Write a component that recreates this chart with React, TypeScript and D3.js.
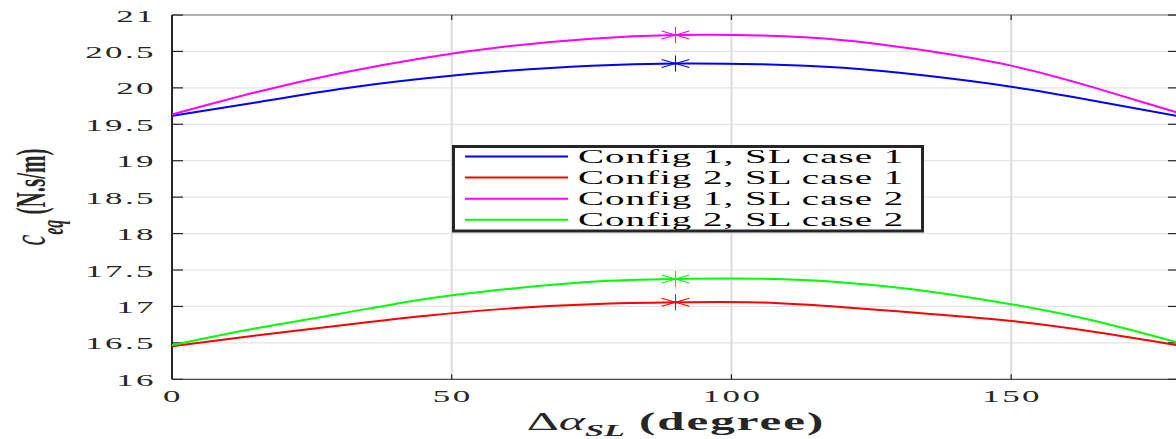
import React, { useEffect, useRef } from "react";
import * as d3 from "d3";

// sampled along delta alpha_SL (degree)
const angles = [0, 15, 30, 45, 60, 75, 90, 105, 120, 135, 150, 165, 180];
const config1Case1 = [19.615, 19.8, 19.985, 20.13, 20.235, 20.305, 20.335, 20.325, 20.275, 20.165, 20.015, 19.82, 19.61];
const config2Case1 = [16.453, 16.6, 16.74, 16.87, 16.97, 17.03, 17.057, 17.055, 16.99, 16.9, 16.8, 16.65, 16.465];
const config1Case2 = [19.635, 19.94, 20.2, 20.41, 20.57, 20.675, 20.725, 20.72, 20.655, 20.51, 20.305, 20.0, 19.655];
const config2Case2 = [16.467, 16.7, 16.9, 17.1, 17.24, 17.34, 17.377, 17.38, 17.33, 17.21, 17.03, 16.8, 16.5];

const seriesNames = ["Config 1, SL case 1", "Config 2, SL case 1", "Config 1, SL case 2", "Config 2, SL case 2"];
const seriesColors = ["#0000ff", "#ff0000", "#ff00ff", "#00ff00"];
const seriesValues = [config1Case1, config2Case1, config1Case2, config2Case2];
const markerAngle = 90;

const yTicks = [16, 16.5, 17, 17.5, 18, 18.5, 19, 19.5, 20, 20.5, 21];
const xTicks = [0, 50, 100, 150];

const W = 1176;
const H = 439;
const SX = 2; // the figure is stretched horizontally

export default function App() {
  const ref = useRef<SVGSVGElement>(null);

  useEffect(() => {
    const svg = d3.select(ref.current);
    svg.selectAll("*").remove();

    const x = d3.scaleLinear().domain([0, 180]).range([172, 1179]);
    const y = d3.scaleLinear().domain([16, 21]).range([379.3, 15]);
    const font = "'Liberation Serif', 'Times New Roman', serif";

    // grid
    svg.append("g")
      .selectAll("line")
      .data(yTicks.slice(1, -1))
      .enter()
      .append("line")
      .attr("x1", x(0)).attr("x2", x(180))
      .attr("y1", d => y(d)).attr("y2", d => y(d))
      .attr("stroke", "#e4e4e4").attr("stroke-width", 1.2);
    svg.append("g")
      .selectAll("line")
      .data(xTicks.slice(1))
      .enter()
      .append("line")
      .attr("x1", d => x(d)).attr("x2", d => x(d))
      .attr("y1", y(21)).attr("y2", y(16))
      .attr("stroke", "#dcdcdc").attr("stroke-width", 2);

    // box
    svg.append("line").attr("x1", x(0)).attr("x2", x(180)).attr("y1", y(21)).attr("y2", y(21))
      .attr("stroke", "#999").attr("stroke-width", 1.5);
    svg.append("line").attr("x1", x(0)).attr("x2", x(180)).attr("y1", y(16)).attr("y2", y(16))
      .attr("stroke", "#4a4a4a").attr("stroke-width", 1.3);
    svg.append("line").attr("x1", x(0)).attr("x2", x(0)).attr("y1", y(21)).attr("y2", y(16))
      .attr("stroke", "#262626").attr("stroke-width", 2);

    // ticks, pointing inward
    const yt = svg.append("g").attr("stroke", "#262626").attr("stroke-width", 1.2);
    yTicks.forEach(v => {
      yt.append("line").attr("x1", x(0)).attr("x2", x(0) + 11).attr("y1", y(v)).attr("y2", y(v));
      yt.append("line").attr("x1", x(180) - 11).attr("x2", x(180)).attr("y1", y(v)).attr("y2", y(v));
    });
    xTicks.slice(1).forEach(v => {
      yt.append("line").attr("x1", x(v)).attr("x2", x(v)).attr("y1", y(16)).attr("y2", y(16) - 5);
      yt.append("line").attr("x1", x(v)).attr("x2", x(v)).attr("y1", y(21)).attr("y2", y(21) + 5);
    });

    // tick labels
    svg.append("g")
      .selectAll("text")
      .data(yTicks)
      .enter()
      .append("text")
      .attr("transform", d => `translate(156,${y(d) + 6.5}) scale(${SX},1)`)
      .attr("text-anchor", "end")
      .attr("font-family", font).attr("font-size", 17.5)
      .attr("letter-spacing", 1.2)
      .attr("fill", "#262626")
      .text(d => String(d));
    svg.append("g")
      .selectAll("text")
      .data(xTicks)
      .enter()
      .append("text")
      .attr("transform", d => `translate(${x(d) + 1},401.5) scale(${SX},1)`)
      .attr("text-anchor", "middle")
      .attr("font-family", font).attr("font-size", 17.5)
      .attr("letter-spacing", 1.2)
      .attr("fill", "#262626")
      .text(d => String(d));

    // curves
    const line = d3.line<number>()
      .x((_, i) => x(angles[i]))
      .y(d => y(d))
      .curve(d3.curveNatural);
    const plot = svg.append("g");
    seriesValues.forEach((vals, i) => {
      plot.append("path")
        .datum(vals)
        .attr("d", line)
        .attr("fill", "none")
        .attr("stroke", seriesColors[i])
        .attr("stroke-width", 2);
    });

    // asterisk markers at 90 degrees
    const r = 8;
    const star = `M0,${-r}L0,${r}` +
      `M${-r * 0.866 * SX},${-r * 0.5}L${r * 0.866 * SX},${r * 0.5}` +
      `M${-r * 0.866 * SX},${r * 0.5}L${r * 0.866 * SX},${-r * 0.5}`;
    seriesValues.forEach((vals, i) => {
      const k = angles.indexOf(markerAngle);
      plot.append("path")
        .attr("d", star)
        .attr("transform", `translate(${x(markerAngle)},${y(vals[k])})`)
        .attr("fill", "none")
        .attr("stroke", seriesColors[i])
        .attr("stroke-width", 1.1);
    });

    // legend
    const lg = svg.append("g");
    lg.append("rect")
      .attr("x", 453.5).attr("y", 146.5).attr("width", 469).attr("height", 84.5)
      .attr("fill", "#fff").attr("stroke", "#262626").attr("stroke-width", 3);
    seriesNames.forEach((name, i) => {
      const cy = 156.5 + i * 21.1;
      lg.append("line")
        .attr("x1", 465).attr("x2", 568).attr("y1", cy).attr("y2", cy)
        .attr("stroke", seriesColors[i]).attr("stroke-width", 2);
      lg.append("text")
        .attr("transform", `translate(578,${cy + 6.5}) scale(${SX},1)`)
        .attr("font-family", font).attr("font-size", 19.5)
        .attr("letter-spacing", 0.5)
        .attr("fill", "#000")
        .text(name);
    });

    // x label
    const xl = svg.append("text")
      .attr("transform", `translate(676,430) scale(${SX},1)`)
      .attr("text-anchor", "middle")
      .attr("font-family", font).attr("font-size", 23)
      .attr("fill", "#262626");
    xl.append("tspan").attr("font-size", 25).text("\u0394");
    xl.append("tspan").attr("font-style", "italic").attr("font-size", 25).text("\u03b1");
    xl.append("tspan").attr("font-style", "italic").attr("font-weight", "bold")
      .attr("font-size", 17).attr("dy", 6).text("SL");
    xl.append("tspan").attr("font-weight", "bold").attr("dy", -6)
      .attr("font-size", 24.5).attr("letter-spacing", 1).text(" (degree)");

    // y label
    const yl = svg.append("text")
      .attr("transform", `translate(45,197) scale(${SX},1) rotate(-90)`)
      .attr("text-anchor", "middle")
      .attr("font-family", font).attr("font-size", 21)
      .attr("fill", "#262626");
    yl.append("tspan").attr("font-style", "italic").attr("font-size", 24).text("c");
    yl.append("tspan").attr("font-style", "italic").attr("font-weight", "bold")
      .attr("font-size", 16).attr("dy", 9).text("eq");
    yl.append("tspan").attr("font-weight", "bold").attr("dy", -9).text(" (N.s/m)");
  }, []);

  return (
    <svg
      ref={ref}
      width={W}
      height={H}
      style={{ position: "absolute", left: 0, top: 0, background: "#fff" }}
    />
  );
}
